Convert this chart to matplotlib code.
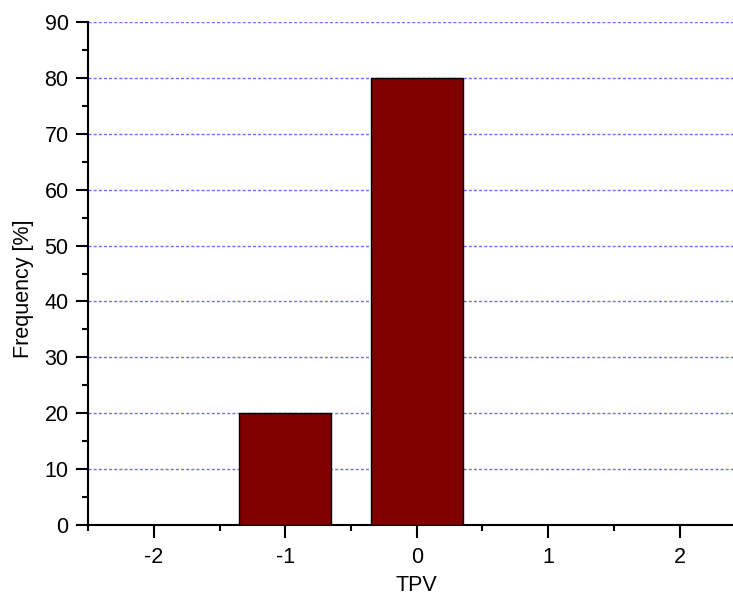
import matplotlib
matplotlib.use("Agg")
import matplotlib.pyplot as plt
from matplotlib.ticker import MultipleLocator

plt.rcParams['font.family'] = ['Liberation Sans', 'DejaVu Sans']

categories = [-1, 0]
frequency = [20, 80]
xticks = [-2, -1, 0, 1, 2]

fig = plt.figure(figsize=(7.33, 5.98), dpi=100)
ax = fig.add_axes([88/733, 73/598, 657.5/733, 503/598])

ax.set_axisbelow(True)
ax.yaxis.grid(True, which='major', color='#6f6fff', linestyle=(0, (2.2, 1.5)), linewidth=1.0)
ax.bar(categories, frequency, width=0.7, color='#800000', edgecolor='black', linewidth=1.0, zorder=3)

ax.set_xlim(-2.5, 2.5)
ax.set_ylim(0, 90)
ax.set_xticks(xticks)
ax.set_xticklabels([str(t) for t in xticks])
ax.xaxis.set_minor_locator(MultipleLocator(0.5))
ax.yaxis.set_major_locator(MultipleLocator(10))
ax.yaxis.set_minor_locator(MultipleLocator(5))

for s in ['top', 'right']:
    ax.spines[s].set_visible(False)
for s in ['left', 'bottom']:
    ax.spines[s].set_linewidth(1.5)

ax.tick_params(axis='both', which='major', direction='out', length=9, width=1.5, labelsize=15.5)
ax.tick_params(axis='x', which='major', pad=7)
ax.tick_params(axis='y', which='major', pad=5)
ax.tick_params(axis='both', which='minor', direction='out', length=4, width=1.5)

ax.set_xlabel('TPV', fontsize=15.5, labelpad=5)
ax.set_ylabel('Frequency [%]', fontsize=15.5)
ax.yaxis.set_label_coords(-0.082, 0.469)

fig.savefig('out.png', dpi=100)
